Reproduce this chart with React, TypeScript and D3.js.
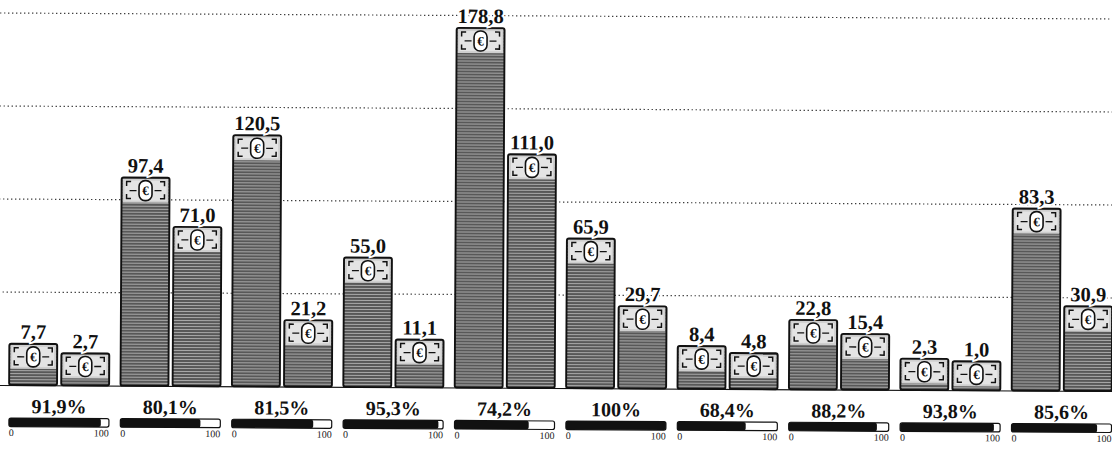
import React from "react";
import * as d3 from "d3";

const groups = ["G1", "G2", "G3", "G4", "G5", "G6", "G7", "G8", "G9", "G10"];
const seriesA = [7.7, 97.4, 120.5, 55.0, 178.8, 65.9, 8.4, 22.8, 2.3, 83.3];
const seriesB = [2.7, 71.0, 21.2, 11.1, 111.0, 29.7, 4.8, 15.4, 1.0, 30.9];
const shares = [91.9, 80.1, 81.5, 95.3, 74.2, 100, 68.4, 88.2, 93.8, 85.6];
const gridValues = [50, 100, 150, 200];
const shareTicks = [0, 100];

const W = 1112;
const H = 449;
const BASE = 388;
const K = 1.86;
const ICON_OFFSET = 27;
const ICON_H = 25;
const FONT = "'Liberation Serif', 'Times New Roman', serif";

const fmtValue = (v: number) => v.toFixed(1).replace(".", ",");
const fmtShare = (v: number) => (v === 100 ? "100" : v.toFixed(1).replace(".", ",")) + "%";

function Icon({ x, y, w }: { x: number; y: number; w: number }) {
  const cx = x + w / 2;
  const h = ICON_H;
  const bl = 4.5;
  const t = y + 4;
  const b = y + h - 4;
  const l = x + 5;
  const r = x + w - 5;
  return (
    <g>
      <rect x={x + 1} y={y + 1} width={w - 2} height={h - 1} fill="#cfcfcf" />
      <rect x={x + 3} y={y + 3} width={w - 6} height={h - 5} fill="#e4e4e4" />
      <path
        d={`M${l + bl},${t} H${l} V${t + bl} M${l},${b - bl} V${b} H${l + bl} M${r - bl},${t} H${r} V${t + bl} M${r},${b - bl} V${b} H${r - bl}`}
        fill="none"
        stroke="#111"
        strokeWidth={1.5}
      />
      <line x1={l + 3} x2={cx - 9} y1={y + h / 2 + 0.5} y2={y + h / 2 + 0.5} stroke="#111" strokeWidth={1.3} />
      <line x1={cx + 9} x2={r - 3} y1={y + h / 2 + 0.5} y2={y + h / 2 + 0.5} stroke="#111" strokeWidth={1.3} />
      <rect x={cx - 6.5} y={y + 3} width={13} height={h - 5} rx={6} fill="#fff" stroke="#111" strokeWidth={1.6} />
      <text x={cx} y={y + h / 2 + 5} textAnchor="middle" fontFamily={FONT} fontWeight="bold" fontSize={13} fill="#111">
        €
      </text>
    </g>
  );
}

export default function App() {
  const x0 = d3
    .scaleBand<string>()
    .domain(groups)
    .range([10, 10 + 9 * 111.4 + 100])
    .paddingInner(11.4 / 111.4)
    .paddingOuter(0);
  const x1 = d3.scaleBand<number>().domain([0, 1]).range([0, x0.bandwidth()]).paddingInner(0.08);
  const y = d3.scaleLinear().domain([0, 200]).range([BASE, BASE - 200 * K]);
  const pct = d3.scaleLinear().domain([0, 100]).range([0, x0.bandwidth()]);

  const bars = groups.flatMap((g, i) =>
    [seriesA[i], seriesB[i]].map((v, j) => ({ g, j, v, x: (x0(g) as number) + (x1(j) as number) }))
  );

  return (
    <svg width={W} height={H} style={{ position: "absolute", left: 0, top: 0, background: "#fff" }}>
      <defs>
        <pattern id="stripes" width={6} height={3} patternUnits="userSpaceOnUse">
          <rect width={6} height={3} fill="#585858" />
          <line x1={0} x2={6} y1={1.5} y2={1.5} stroke="#a8a8a8" strokeWidth={1} />
        </pattern>
      </defs>
      <rect width={W} height={H} fill="#fff" />
      <g transform={`rotate(0.31 ${W / 2} ${H / 2})`}>
        {gridValues.map((gv) => (
          <line
            key={gv}
            x1={-5}
            x2={W + 5}
            y1={y(gv)}
            y2={y(gv)}
            stroke="#222"
            strokeWidth={1.2}
            strokeDasharray="1.2,2.8"
          />
        ))}
        <line x1={-5} x2={W + 5} y1={BASE + 0.5} y2={BASE + 0.5} stroke="#111" strokeWidth={1.2} />
        {bars.map((b) => {
          const top = y(b.v) - ICON_OFFSET;
          const w = x1.bandwidth();
          return (
            <g key={b.g + b.j}>
              <rect x={b.x} y={top} width={w} height={BASE - top} rx={2} fill="url(#stripes)" />
              <Icon x={b.x} y={top} w={w} />
              <rect x={b.x} y={top} width={w} height={BASE - top} rx={2} fill="none" stroke="#111" strokeWidth={1.9} />
              <text
                x={b.x + w / 2}
                y={top - 5}
                textAnchor="middle"
                fontFamily={FONT}
                fontWeight="bold"
                fontSize={20.5}
                fill="#111"
                stroke="#fff"
                strokeWidth={4}
                paintOrder="stroke"
              >
                {fmtValue(b.v)}
              </text>
            </g>
          );
        })}
        {groups.map((g, i) => {
          const gx = x0(g) as number;
          const bw = x0.bandwidth();
          return (
            <g key={g}>
              <text x={gx + bw / 2} y={416} textAnchor="middle" fontFamily={FONT} fontWeight="bold" fontSize={20} fill="#111">
                {fmtShare(shares[i])}
              </text>
              <rect x={gx} y={421} width={bw} height={8.5} rx={2} fill="#fff" stroke="#111" strokeWidth={1.2} />
              <rect x={gx} y={421} width={pct(shares[i])} height={8.5} rx={2} fill="#111" />
              {shareTicks.map((t) => (
                <text
                  key={t}
                  x={gx + pct(t)}
                  y={439}
                  textAnchor={t === 0 ? "start" : "end"}
                  fontFamily={FONT}
                  fontSize={10}
                  fill="#222"
                >
                  {t}
                </text>
              ))}
            </g>
          );
        })}
      </g>
    </svg>
  );
}
